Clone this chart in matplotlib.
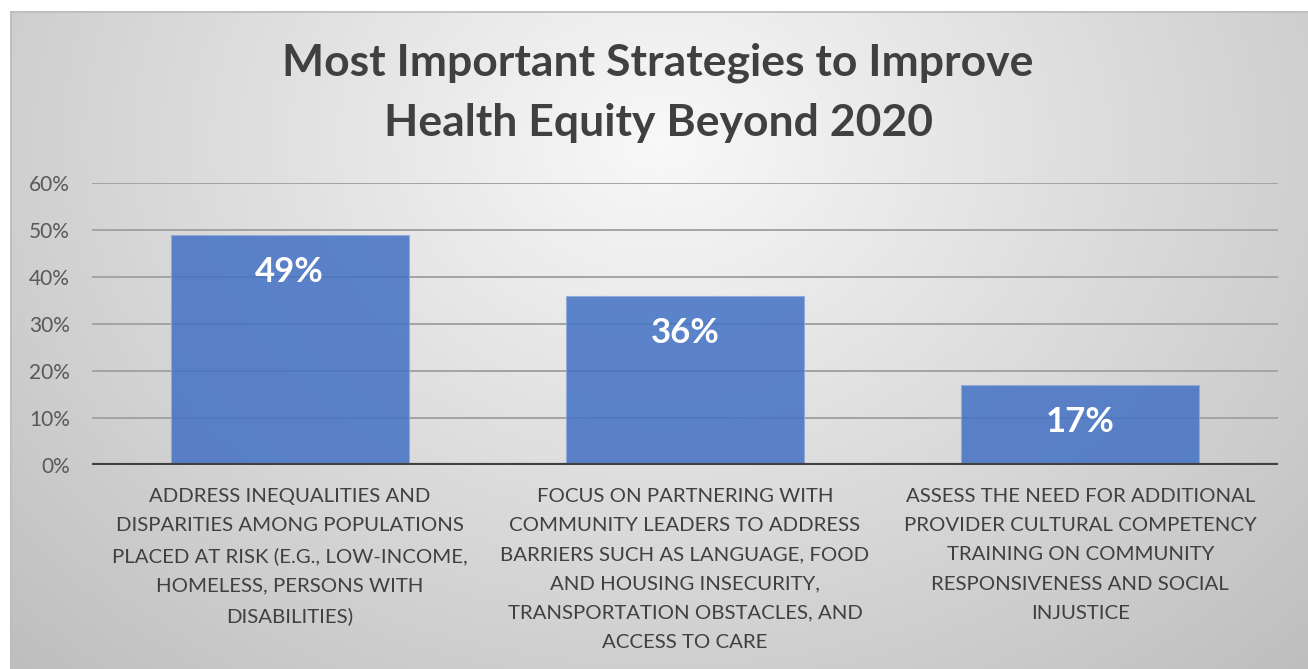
import numpy as np
import matplotlib
matplotlib.use("Agg")
import matplotlib.pyplot as plt

title = "Most Important Strategies to Improve\nHealth Equity Beyond 2020"
categories = [
    "ADDRESS INEQUALITIES AND\nDISPARITIES AMONG POPULATIONS\nPLACED AT RISK (E.G., LOW-INCOME,\nHOMELESS, PERSONS WITH\nDISABILITIES)",
    "FOCUS ON PARTNERING WITH\nCOMMUNITY LEADERS TO ADDRESS\nBARRIERS SUCH AS LANGUAGE, FOOD\nAND HOUSING INSECURITY,\nTRANSPORTATION OBSTACLES, AND\nACCESS TO CARE",
    "ASSESS THE NEED FOR ADDITIONAL\nPROVIDER CULTURAL COMPETENCY\nTRAINING ON COMMUNITY\nRESPONSIVENESS AND SOCIAL\nINJUSTICE",
]
values = [0.49, 0.36, 0.17]
yticks = [0.0, 0.1, 0.2, 0.3, 0.4, 0.5, 0.6]
ytick_labels = ["0%", "10%", "20%", "30%", "40%", "50%", "60%"]

FONT = "Lato"
W, H = 1308, 669
fig = plt.figure(figsize=(W / 100, H / 100), dpi=100)
fig.patch.set_facecolor("white")

# background radial gradient chart area
x0, y0 = 10, 11
bg = fig.add_axes([x0 / W, 0, 1 - x0 / W, 1 - y0 / H])
bw, bh = W - x0, H - y0
yy, xx = np.mgrid[0:bh, 0:bw]
cx, cy = 650, 130
r = np.sqrt(((xx - cx) / 1.0) ** 2 + ((yy - cy) * 1.25) ** 2)
R = np.sqrt(cx ** 2 + ((bh - cy) * 1.25) ** 2)
t = np.clip(r / R, 0, 1)
light, dark = 0.975, 0.745
val = light + (dark - light) * t
img = np.dstack([val, val, val])
bg.imshow(img, aspect="auto", extent=(0, bw, bh, 0), interpolation="bilinear")
bg.set_xlim(0, bw)
bg.set_ylim(bh, 0)
bg.axis("off")
bg.plot([0, bw], [0.5, 0.5], color="#bcbcbc", lw=1.2)
bg.plot([0.5, 0.5], [0, bh], color="#bcbcbc", lw=1.2)

# plot area
left, right = 92, 1278
top0, bottom0 = 183, 465
ax = fig.add_axes([left / W, (H - bottom0) / H, (right - left) / W, (bottom0 - top0) / H])
ax.set_facecolor("none")
x = np.arange(len(values))
ax.set_xlim(-0.5, len(values) - 0.5)
ax.set_ylim(0, 0.6)
for yv in yticks[1:]:
    ax.axhline(yv, color="#a3a3a3", lw=1.4, zorder=1)
bars = ax.bar(x, values, width=0.602, color="#4472C4", alpha=0.86, edgecolor="#8eaadb",
              linewidth=0.8, zorder=2)
ax.axhline(0, color="#404040", lw=3, zorder=3)

for s in ax.spines.values():
    s.set_visible(False)
ax.set_yticks(yticks)
ax.set_yticklabels(ytick_labels, fontsize=15, color="#595959", family=FONT)
ax.tick_params(axis="y", length=0, pad=16)
ax.set_xticks([])

for xi, v in zip(x, values):
    ax.annotate(f"{round(v * 100)}%", xy=(xi, v), xytext=(0, -37), textcoords="offset pixels",
                ha="center", va="center", color="white", fontsize=25, fontweight="bold",
                family=FONT, zorder=4)

for xi, lab in zip(x, categories):
    ax.annotate(lab, xy=(xi, 0), xytext=(0, -23), textcoords="offset pixels",
                ha="center", va="top", color="#404040", fontsize=14.7, family=FONT,
                linespacing=1.87, multialignment="center")

fig.text(658 / W, 1 - 93 / H, title, ha="center", va="center", fontsize=32,
         fontweight="bold", color="#404040", family=FONT, linespacing=1.6)

fig.savefig("out.png", dpi=100, facecolor=fig.get_facecolor())
